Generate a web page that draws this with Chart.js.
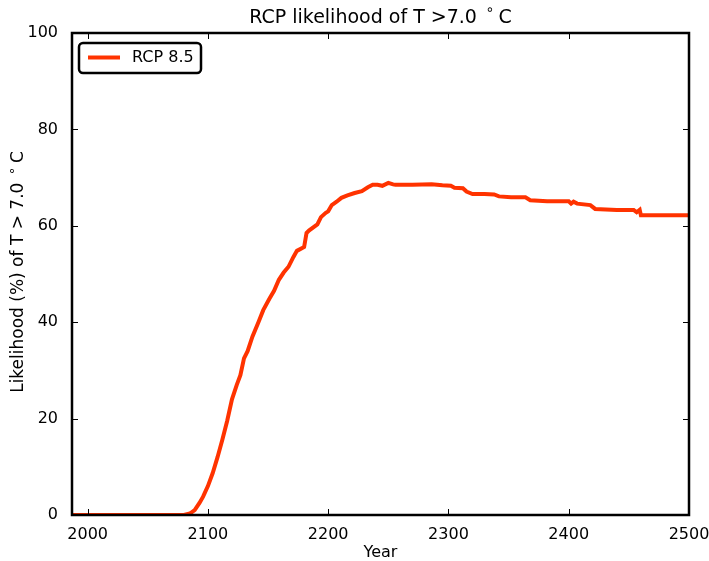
<!DOCTYPE html>
<html>
<head>
<meta charset="utf-8">
<script src="https://cdn.jsdelivr.net/npm/chart.js@4/dist/chart.umd.min.js"></script>
<style>
  html, body { margin: 0; padding: 0; background: #fff; }
  #wrap { width: 709px; height: 561px; }
</style>
</head>
<body>
<div id="wrap"><canvas id="myChart" width="709" height="561"></canvas></div>
<script>
// values
const years = [1987, 2080, 2085, 2089, 2093, 2096, 2100, 2104, 2108, 2112, 2116, 2120, 2124, 2127, 2130, 2133, 2137, 2142, 2146, 2151, 2155, 2159, 2163, 2167, 2171, 2174, 2180, 2182, 2184, 2191, 2194, 2198, 2200, 2203, 2207, 2211, 2216, 2222, 2228, 2233, 2237, 2241, 2245, 2250, 2254, 2256, 2270, 2286, 2295, 2302, 2305, 2312, 2315, 2320, 2330, 2338, 2342, 2352, 2364, 2368, 2382, 2400, 2402, 2404, 2407, 2418, 2422, 2440, 2454, 2456.5, 2459, 2460, 2462, 2480, 2500];
const likelihood = [0, 0, 0.3, 1, 2.5, 3.8, 6, 8.7, 12, 15.6, 19.5, 24, 27, 29, 32.5, 34, 37, 40, 42.5, 44.8, 46.5, 48.8, 50.3, 51.5, 53.5, 54.8, 55.6, 58.5, 59, 60.3, 61.8, 62.7, 63, 64.3, 65, 65.8, 66.3, 66.8, 67.2, 68, 68.5, 68.5, 68.3, 68.9, 68.6, 68.5, 68.5, 68.6, 68.4, 68.3, 67.9, 67.8, 67.1, 66.6, 66.6, 66.5, 66.1, 65.9, 65.9, 65.3, 65.1, 65.1, 64.6, 65.0, 64.6, 64.3, 63.5, 63.3, 63.3, 62.8, 63.3, 62.2, 62.2, 62.2, 62.2];
const xTicks = [2000, 2100, 2200, 2300, 2400, 2500];
const yTicks = [0, 20, 40, 60, 80, 100];
const seriesName = "RCP 8.5";
const lineColor = "#ff3300";
const fontFamily = "'DejaVu Sans', sans-serif";

// draws "before ° C" centred at (x, y), with a small raised degree ring like mathtext
function drawDegreeText(ctx, before, x, y, size) {
  const big = size + "px " + fontFamily;
  const small = Math.round(size * 0.75) + "px " + fontFamily;
  ctx.font = big;
  const w1 = ctx.measureText(before).width;
  const wGap = size * 0.45;
  const wC = ctx.measureText("C").width;
  ctx.font = small;
  const wDeg = ctx.measureText("\u2218").width;
  const total = w1 + wGap + wDeg + wGap * 0.5 + wC;
  let left = x - total / 2;
  ctx.textAlign = "left";
  ctx.textBaseline = "middle";
  ctx.font = big;
  ctx.fillText(before, left, y);
  left += w1 + wGap;
  ctx.font = small;
  ctx.fillText("\u2218", left, y - size * 0.38);
  left += wDeg + wGap * 0.5;
  ctx.font = big;
  ctx.fillText("C", left, y);
}

// frame, inward ticks, titles and legend, matplotlib classic look
const decorations = {
  id: "decorations",
  afterDraw(chart) {
    const { ctx, chartArea: a, scales } = chart;
    ctx.save();
    ctx.strokeStyle = "#000";
    ctx.lineWidth = 1;
    ctx.beginPath();
    xTicks.forEach((v) => {
      const px = Math.round(scales.x.getPixelForValue(v)) + 0.5;
      ctx.moveTo(px, a.bottom); ctx.lineTo(px, a.bottom - 6);
      ctx.moveTo(px, a.top); ctx.lineTo(px, a.top + 6);
    });
    yTicks.forEach((v) => {
      const py = Math.round(scales.y.getPixelForValue(v)) + 0.5;
      ctx.moveTo(a.left, py); ctx.lineTo(a.left + 6, py);
      ctx.moveTo(a.right, py); ctx.lineTo(a.right - 6, py);
    });
    ctx.stroke();

    ctx.lineWidth = 2.5;
    ctx.strokeRect(a.left, a.top, a.right - a.left, a.bottom - a.top);

    // titles
    const cx = (a.left + a.right) / 2;
    ctx.fillStyle = "#000";
    drawDegreeText(ctx, "RCP likelihood of T >7.0", cx, 18, 19);
    ctx.textAlign = "center";
    ctx.font = "16px " + fontFamily;
    ctx.fillText("Year", cx, 553);
    ctx.translate(19, 272);
    ctx.rotate(-Math.PI / 2);
    drawDegreeText(ctx, "Likelihood (%) of T > 7.0", 0, 0, 17);
    ctx.setTransform(1, 0, 0, 1, 0, 0);

    // legend box
    ctx.fillStyle = "#fff";
    ctx.lineWidth = 2.5;
    ctx.beginPath();
    ctx.roundRect(79, 43, 122, 30, 4);
    ctx.fill();
    ctx.stroke();
    ctx.strokeStyle = lineColor;
    ctx.lineWidth = 4;
    ctx.beginPath();
    ctx.moveTo(88, 57.5); ctx.lineTo(120, 57.5);
    ctx.stroke();
    ctx.fillStyle = "#000";
    ctx.textAlign = "left";
    ctx.textBaseline = "middle";
    ctx.font = "16px " + fontFamily;
    ctx.fillText(seriesName, 132, 58);
    ctx.restore();
  },
};

function initChart() {
  const ctx = document.getElementById("myChart").getContext("2d");
  return new Chart(ctx, {
    type: "line",
    data: {
      datasets: [
        {
          label: seriesName,
          data: years.map((y, i) => ({ x: y, y: likelihood[i] })),
          borderColor: lineColor,
          borderWidth: 4,
          pointRadius: 0,
          tension: 0,
          fill: false,
        },
      ],
    },
    options: {
      responsive: false,
      animation: false,
      layout: { padding: { top: 33, right: 20, left: 0, bottom: 0 } },
      plugins: { legend: { display: false }, tooltip: { enabled: false } },
      scales: {
        x: {
          type: "linear",
          min: 1987,
          max: 2500,
          grid: { display: false },
          border: { display: false },
          afterBuildTicks: (s) => { s.ticks = xTicks.map((v) => ({ value: v })); },
          afterFit: (s) => { s.height = 46; s.paddingRight = 0; },
          ticks: { color: "#000", padding: 2, maxRotation: 0, callback: (v) => String(v), font: { family: fontFamily, size: 16 } },
        },
        y: {
          min: 0,
          max: 100,
          grid: { display: false },
          border: { display: false },
          afterBuildTicks: (s) => { s.ticks = yTicks.map((v) => ({ value: v })); },
          afterFit: (s) => { s.width = 72; },
          ticks: { color: "#000", padding: 6, callback: (v) => String(v), font: { family: fontFamily, size: 16 } },
        },
      },
    },
    plugins: [decorations],
  });
}

initChart();
</script>
</body>
</html>
